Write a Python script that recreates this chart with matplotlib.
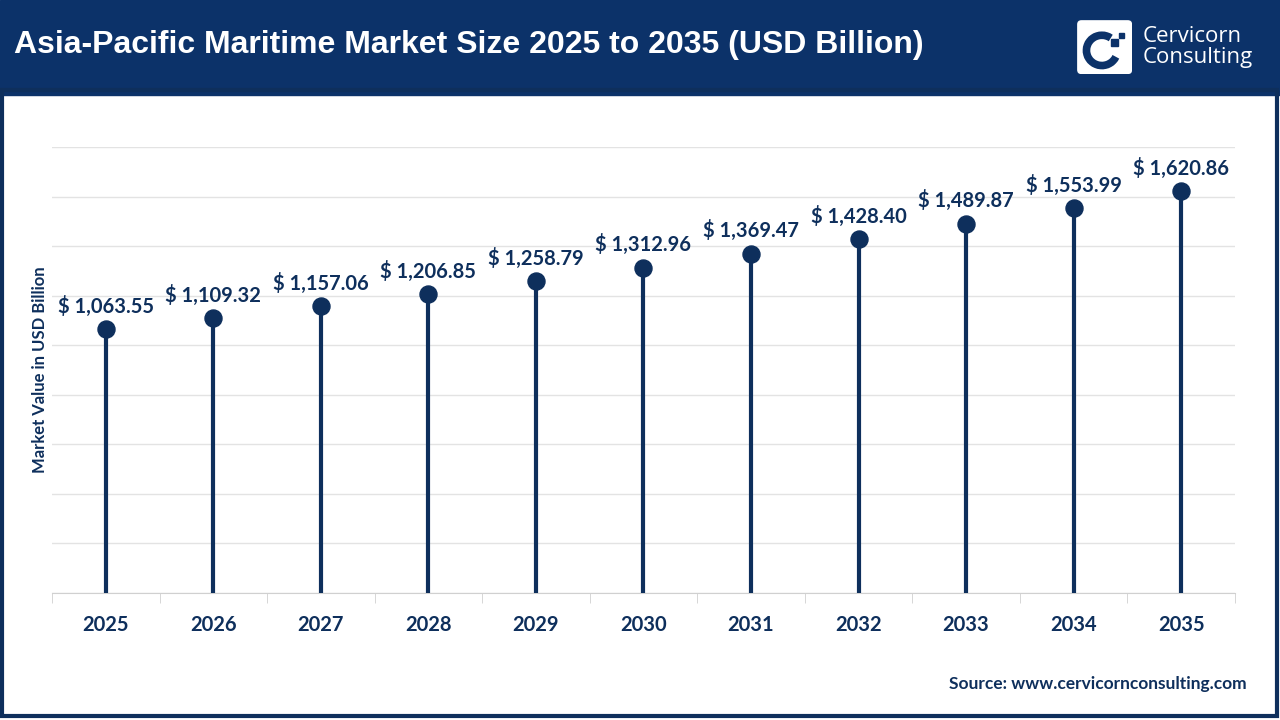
import numpy as np
import matplotlib.pyplot as plt
from matplotlib.patches import Rectangle, FancyBboxPatch, Arc

years = ["2025", "2026", "2027", "2028", "2029", "2030", "2031", "2032", "2033", "2034", "2035"]
values = [1063.55, 1109.32, 1157.06, 1206.85, 1258.79, 1312.96, 1369.47, 1428.40, 1489.87, 1553.99, 1620.86]

navy = "#0c3269"
dark = "#0e2f5c"

plt.rcParams['font.family'] = ['Lato', 'DejaVu Sans']

fig = plt.figure(figsize=(12.8, 7.2), dpi=100)
fig.patch.set_facecolor("white")

# header band and frame
fig.add_artist(Rectangle((0, 0.868), 1, 0.132, transform=fig.transFigure, color=navy, zorder=0))
fig.add_artist(Rectangle((0.0012, 0.0055), 0.9965, 0.87, transform=fig.transFigure,
                         fill=False, edgecolor=dark, linewidth=3, zorder=0))
fig.text(0.011, 0.938, "Asia-Pacific Maritime Market Size 2025 to 2035 (USD Billion)",
         color="white", fontsize=23, fontweight="bold", va="center", ha="left",
         family=["Liberation Sans Narrow", "Liberation Sans", "DejaVu Sans"])

# logo
lax = fig.add_axes([0.8415, 0.897, 0.043, 0.075])
lax.set_xlim(0, 1)
lax.set_ylim(0, 1)
lax.axis("off")
lax.add_patch(FancyBboxPatch((0, 0), 1, 1, boxstyle="round,pad=0,rounding_size=0.08",
                             facecolor="white", edgecolor="none"))
lax.add_patch(Arc((0.45, 0.44), 0.56, 0.56, theta1=55, theta2=335, color=navy, linewidth=5.5))
lax.add_patch(Rectangle((0.62, 0.53), 0.12, 0.12, color=navy))
lax.add_patch(Rectangle((0.76, 0.67), 0.09, 0.09, color=navy))
fig.text(0.893, 0.935, "Cervicorn\nConsulting", color="white", fontsize=16, va="center", ha="left",
         linespacing=1.0, family=["Open Sans", "DejaVu Sans"])

# chart
ax = fig.add_axes([0.0406, 0.1764, 0.9242, 0.6194])
x = np.arange(len(years))
ax.vlines(x, 0, values, color=dark, linewidth=3, zorder=3)
ax.scatter(x, values, s=150, color=dark, zorder=4)
for xi, v in zip(x, values):
    ax.annotate(f"$ {v:,.2f}", (xi, v), xytext=(0, 9), textcoords="offset points",
                ha="center", va="bottom", fontsize=14.5, fontweight="bold", color=dark)

ax.set_xlim(-0.5, len(years) - 0.5)
ax.set_ylim(0, 1800)
ax.set_yticks(np.arange(0, 1801, 200))
ax.yaxis.grid(True, color="#e3e3e3", linewidth=1)
ax.set_axisbelow(True)
ax.tick_params(axis="y", left=False, labelleft=False)
ax.set_xticks(x)
ax.set_xticklabels(years, fontsize=14.5, fontweight="bold", color=dark)
ax.set_xticks(np.arange(-0.5, len(years)), minor=True)
ax.tick_params(axis="x", which="major", length=0, pad=16)
ax.tick_params(axis="x", which="minor", length=7, color="#d0d0d0")
for s in ["top", "right", "left"]:
    ax.spines[s].set_visible(False)
ax.spines["bottom"].set_color("#d0d0d0")
ax.set_ylabel("Market Value in USD Billion", fontsize=12, fontweight="bold", color=dark, labelpad=3)

fig.text(0.974, 0.05, "Source: www.cervicornconsulting.com", ha="right", va="center",
         fontsize=12.5, fontweight="bold", color=dark)

fig.savefig("out.png", dpi=100)
